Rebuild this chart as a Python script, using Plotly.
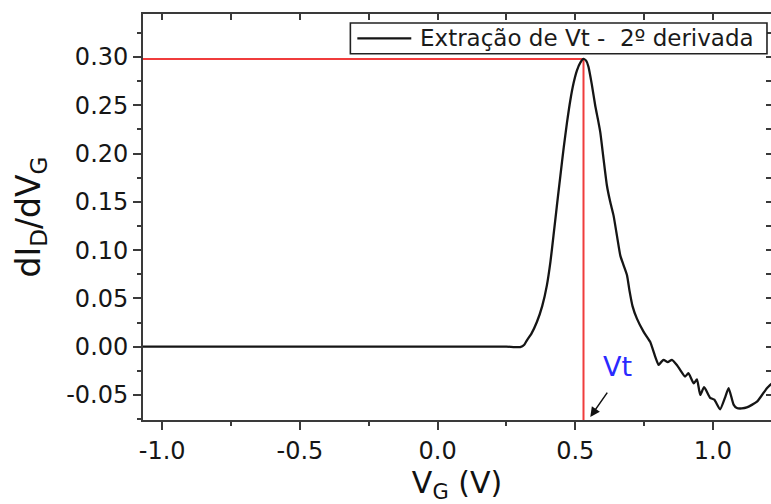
import plotly.graph_objects as go

# ---- data ----
vg = [-1.07, -1.0, -0.75, -0.5, -0.25, 0.0, 0.2, 0.25, 0.28, 0.30, 0.315, 0.325, 0.34,
      0.361, 0.38, 0.397, 0.41, 0.421, 0.433, 0.446, 0.458, 0.47, 0.482, 0.494, 0.506,
      0.518, 0.53, 0.54, 0.548, 0.56, 0.573, 0.582, 0.591, 0.603, 0.615, 0.627, 0.639,
      0.652, 0.664, 0.676, 0.688, 0.697, 0.708, 0.724, 0.748, 0.772, 0.79, 0.803, 0.812,
      0.821, 0.836, 0.851, 0.869, 0.881, 0.899, 0.911, 0.93, 0.942, 0.954, 0.968, 0.99,
      1.005, 1.026, 1.045, 1.057, 1.075, 1.087, 1.105, 1.123, 1.16, 1.196, 1.215]
didv = [0.0, 0.0, 0.0, 0.0, 0.0, 0.0, 0.0, 0.0, -0.0005, -0.0005, 0.002, 0.0068, 0.013,
        0.0258, 0.042, 0.0635, 0.088, 0.115, 0.145, 0.177, 0.206, 0.232, 0.255, 0.273, 0.286,
        0.294, 0.298, 0.296, 0.29, 0.272, 0.249, 0.236, 0.222, 0.194, 0.167, 0.15, 0.136,
        0.114, 0.094, 0.084, 0.074, 0.058, 0.042, 0.029, 0.0155, 0.005, -0.01, -0.019, -0.016,
        -0.0138, -0.016, -0.0138, -0.019, -0.024, -0.031, -0.0275, -0.038, -0.034, -0.05, -0.042, -0.053,
        -0.055, -0.065, -0.052, -0.043, -0.06, -0.0636, -0.064, -0.063, -0.057, -0.043, -0.038]

series_name = "Extração de Vt -\u00a0 2º derivada"
x_tick_vals = [-1.0, -0.5, 0.0, 0.5, 1.0]
x_tick_text = ["-1.0", "-0.5", "0.0", "0.5", "1.0"]
y_tick_vals = [-0.05, 0.0, 0.05, 0.10, 0.15, 0.20, 0.25, 0.30]
y_tick_text = ["-0.05", "0.00", "0.05", "0.10", "0.15", "0.20", "0.25", "0.30"]
x_range = [-1.0697, 1.2109]
y_range = [-0.0760, 0.3446]

# peak -> threshold voltage
i_pk = max(range(len(didv)), key=lambda i: didv[i])
vt, peak = vg[i_pk], didv[i_pk]

FONT = "DejaVu Sans"
AX = "#3a3a3a"
RED = "#f03c3c"
CURVE = "#151515"

fig = go.Figure()
fig.add_trace(go.Scatter(x=vg, y=didv, mode="lines", name=series_name, showlegend=False,
                         line=dict(color=CURVE, width=2.3, shape="spline", smoothing=0.5)))
# invisible trace to activate the mirrored tick axes
fig.add_trace(go.Scatter(x=[x_range[0]], y=[y_range[0]], xaxis="x2", yaxis="y2",
                         mode="markers", marker=dict(opacity=0), showlegend=False, hoverinfo="skip"))

# red guide lines derived from the peak
fig.add_shape(type="line", x0=x_range[0], x1=vt, y0=peak, y1=peak,
              line=dict(color=RED, width=2), layer="below")
fig.add_shape(type="line", x0=vt, x1=vt, y0=y_range[0], y1=peak,
              line=dict(color=RED, width=2), layer="below")

# legend box (drawn, Origin style)
fig.add_shape(type="rect", xref="paper", yref="paper", x0=0.3302, x1=0.9936, y0=0.902, y1=0.978,
              line=dict(color="#222", width=1.6), fillcolor="white")
fig.add_shape(type="line", xref="paper", yref="paper", x0=0.3413, x1=0.4272, y0=0.940, y1=0.940,
              line=dict(color=CURVE, width=2.3))
fig.add_annotation(xref="paper", yref="paper", x=0.4385, y=0.940, xanchor="left", yanchor="middle",
                   text=series_name, showarrow=False,
                   font=dict(family=FONT, size=23, color="#1a1a1a"))

fig.add_annotation(x=0.653, y=-0.0203, text="Vt", showarrow=False,
                   font=dict(family=FONT, size=27, color="#2a2aff"))
fig.add_annotation(x=0.5546, y=-0.0729, ax=0.620, ay=-0.0461, axref="x", ayref="y",
                   text="", showarrow=True, arrowhead=2, arrowsize=1.3, arrowwidth=1.5,
                   arrowcolor="#111")

fig.update_layout(
    width=771, height=504,
    margin=dict(l=142.5, r=0, t=14, b=82),
    paper_bgcolor="white", plot_bgcolor="white",
    font=dict(family=FONT, color="#1a1a1a"),
    showlegend=False,
    xaxis=dict(range=x_range, tickmode="array", tickvals=x_tick_vals, ticktext=x_tick_text,
               ticks="outside", ticklen=8, tickwidth=1.5, tickcolor=AX,
               showline=True, linecolor=AX, linewidth=1.8, showgrid=False, zeroline=False,
               tickfont=dict(family=FONT, size=24, color="#161616"),
               minor=dict(tickmode="linear", tick0=0, dtick=0.25, ticks="outside",
                          ticklen=4, tickwidth=1.5, tickcolor=AX, showgrid=False),
               title=dict(text="V<sub>G</sub> (V)", font=dict(family=FONT, size=30, color="#111"),
                          standoff=18)),
    yaxis=dict(range=y_range, tickmode="array", tickvals=y_tick_vals, ticktext=y_tick_text,
               ticks="outside", ticklen=8, tickwidth=1.5, tickcolor=AX,
               showline=True, linecolor=AX, linewidth=1.8, showgrid=False, zeroline=False,
               tickfont=dict(family=FONT, size=24, color="#161616"),
               minor=dict(tickmode="linear", tick0=0, dtick=0.025, ticks="outside",
                          ticklen=4, tickwidth=1.5, tickcolor=AX, showgrid=False),
               title=dict(text="dI<sub>D</sub>/dV<sub>G</sub>", font=dict(family=FONT, size=33, color="#111"),
                          standoff=16)),
    xaxis2=dict(overlaying="x", side="top", anchor="y", range=x_range,
                tickmode="linear", tick0=0, dtick=0.25, ticks="inside", ticklen=6,
                tickwidth=1.5, tickcolor=AX, showticklabels=False, showline=True,
                linecolor=AX, linewidth=1.8, showgrid=False, zeroline=False),
    yaxis2=dict(overlaying="y", side="right", anchor="x2", range=y_range,
                tickmode="linear", tick0=0, dtick=0.025, ticks="inside", ticklen=5,
                tickwidth=1.5, tickcolor=AX, showticklabels=False, showline=False,
                showgrid=False, zeroline=False),
)

fig.write_html("out.html")
